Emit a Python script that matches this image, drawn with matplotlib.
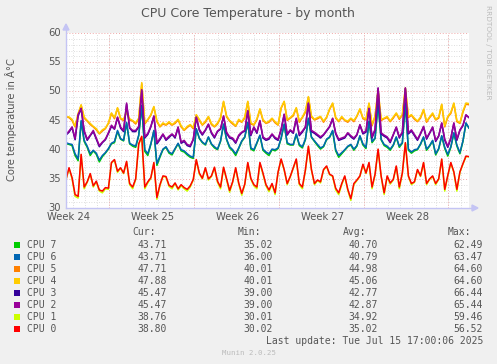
import numpy as np
import matplotlib
matplotlib.use("Agg")
import matplotlib.pyplot as plt
from matplotlib.patches import Rectangle

# ---------------- data (6-hour samples, day 0 .. 33.25) ----------------
cpu6 = [41.2,41.0,40.9,39.3,38.4,45.0,41.6,40.6,39.3,39.9,39.4,38.2,39.0,39.5,40.2,41.1,41.4,43.3,41.9,41.6,
        44.7,41.1,40.8,40.6,42.5,47.6,40.0,39.3,41.0,43.3,37.6,38.9,40.1,40.5,39.6,39.3,40.2,41.1,40.0,39.8,
        39.3,38.9,38.7,43.6,42.0,41.3,40.9,42.2,41.0,40.5,40.1,41.5,44.4,41.8,40.5,40.0,39.3,40.3,41.5,42.2,
        44.7,40.3,40.0,41.2,42.5,40.1,39.6,39.3,40.1,40.0,40.3,42.0,44.4,41.2,40.9,40.9,42.7,40.9,40.5,41.8,
        45.4,42.2,41.5,40.9,40.3,40.6,41.8,42.2,43.3,40.0,39.0,39.5,40.0,40.6,40.9,40.1,40.7,42.4,41.0,40.4,
        44.9,41.4,42.0,48.0,41.8,40.9,40.6,40.1,40.8,42.2,40.6,41.2,48.0,40.1,39.6,40.0,40.1,41.0,42.2,40.1,
        40.7,41.6,39.3,40.2,42.4,40.4,39.2,40.5,42.9,40.8,39.5,41.5,44.6,43.7]
cpu7 = [41.0,40.9,40.7,39.0,38.1,44.8,41.4,40.4,39.0,39.8,39.2,37.9,38.8,39.4,40.1,41.0,41.2,43.1,41.8,41.5,
        44.5,41.0,40.6,40.4,42.4,47.4,39.7,39.0,40.9,43.2,37.3,38.7,40.0,40.4,39.4,39.1,40.1,41.0,39.8,39.6,
        39.1,38.7,38.5,43.5,41.9,41.2,40.8,42.1,40.9,40.3,40.0,41.4,44.3,41.7,40.3,39.8,39.0,40.2,41.4,42.1,
        44.6,40.1,39.8,41.1,42.4,39.9,39.4,39.0,40.0,39.8,40.2,41.9,44.3,41.0,40.8,40.8,42.6,40.7,40.3,41.7,
        45.3,42.1,41.4,40.7,40.1,40.5,41.7,42.1,43.2,39.8,38.7,39.3,39.9,40.5,40.8,39.9,40.6,42.3,40.8,40.2,
        44.8,41.2,41.9,47.9,41.7,40.7,40.4,39.9,40.7,42.1,40.4,41.1,47.9,39.9,39.4,39.8,40.0,40.9,42.1,39.9,
        40.6,41.5,39.1,40.1,42.3,40.2,38.9,40.4,42.8,40.6,39.3,41.4,44.5,43.7]
cpu2 = [42.6,43.2,43.9,41.9,46.0,47.1,43.3,41.8,42.5,43.3,42.0,40.7,41.3,41.8,42.9,44.2,43.6,45.6,43.9,43.3,
        48.0,43.8,43.3,43.3,44.0,50.3,42.2,42.8,44.0,45.8,41.2,41.9,42.7,41.8,42.3,42.7,42.2,43.9,41.3,41.6,
        40.9,40.7,41.8,45.6,43.5,42.7,43.4,44.4,43.0,42.2,43.2,43.6,45.8,43.0,42.2,42.0,41.3,42.5,43.0,43.3,
        46.7,42.6,43.9,43.0,45.0,42.2,41.8,42.0,42.7,42.1,41.8,43.5,46.1,42.7,43.4,43.0,45.4,42.6,43.2,43.9,
        48.0,43.3,43.0,42.6,42.2,42.6,43.3,44.0,45.4,42.9,41.8,42.0,42.2,42.9,42.4,42.0,42.6,44.3,42.9,43.2,
        47.1,42.2,43.5,50.6,42.9,42.5,42.2,41.4,42.6,43.9,42.2,43.0,50.6,42.9,43.4,42.6,41.8,42.8,44.0,42.0,
        42.9,43.9,41.6,42.4,44.6,41.8,40.6,42.0,44.6,41.8,43.4,44.2,46.0,45.5]
cpu3 = [42.5,43.0,43.8,41.7,45.8,47.0,43.1,41.6,42.4,43.1,41.8,40.5,41.2,41.7,42.8,44.0,43.5,45.5,43.7,43.1,
        47.8,43.7,43.1,43.1,43.9,50.1,42.0,42.6,43.9,45.7,41.0,41.7,42.6,41.6,42.1,42.6,42.0,43.8,41.1,41.4,
        40.7,40.5,41.7,45.5,43.3,42.5,43.3,44.3,42.8,42.0,43.1,43.5,45.7,42.8,42.0,41.8,41.1,42.3,42.9,43.2,
        46.6,42.4,43.8,42.8,44.9,42.0,41.6,41.8,42.6,41.9,41.6,43.4,46.0,42.5,43.3,42.8,45.3,42.4,43.0,43.8,
        47.9,43.1,42.8,42.4,42.0,42.5,43.2,43.9,45.3,42.7,41.6,41.8,42.0,42.8,42.2,41.8,42.5,44.2,42.7,43.0,
        47.0,42.0,43.4,50.5,42.7,42.3,42.0,41.2,42.5,43.8,42.0,42.9,50.5,42.7,43.2,42.4,41.6,42.7,43.9,41.8,
        42.8,43.8,41.4,42.3,44.5,41.6,40.4,41.9,44.5,41.6,43.3,44.1,45.9,45.5]
cpu4 = [45.7,45.6,45.2,44.0,46.2,47.7,45.6,45.0,44.5,44.0,43.6,42.8,43.4,43.7,44.6,46.3,45.5,47.2,45.4,45.2,
        46.6,45.3,45.0,44.6,45.4,51.5,44.6,45.2,46.0,47.4,45.0,44.0,44.6,44.3,44.8,44.3,44.7,45.2,44.1,43.4,
        44.0,44.3,43.8,46.0,45.2,44.3,44.9,45.7,44.5,44.0,44.6,45.5,48.3,45.8,45.0,44.6,44.1,45.2,44.8,45.6,
        48.3,44.6,44.3,45.3,47.0,45.2,44.6,44.9,45.4,44.8,44.3,47.2,48.3,45.2,45.5,46.0,47.2,44.9,45.6,46.6,
        49.1,45.8,45.2,45.5,45.7,44.9,45.6,47.0,48.0,45.6,44.9,45.7,45.1,44.9,45.4,45.0,45.8,47.0,45.5,45.2,
        48.0,44.3,45.8,50.3,45.2,45.4,45.7,44.9,45.6,46.3,45.4,46.0,50.6,45.7,46.0,45.4,44.9,45.6,46.9,44.9,
        45.6,46.3,45.2,45.6,47.8,44.1,45.7,46.4,48.0,45.0,44.6,46.6,48.0,47.9]
cpu5 = [45.6,45.5,45.0,43.9,46.0,47.6,45.4,44.9,44.3,43.9,43.4,42.7,43.2,43.6,44.5,46.2,45.3,47.1,45.3,45.0,
        46.5,45.1,44.9,44.4,45.3,51.3,44.4,45.1,45.9,47.3,44.8,43.9,44.4,44.2,44.6,44.2,44.5,45.1,43.9,43.3,
        43.8,44.2,43.6,45.9,45.0,44.2,44.7,45.6,44.3,43.9,44.4,45.4,48.2,45.6,44.9,44.4,44.0,45.0,44.7,45.4,
        48.2,44.4,44.2,45.1,46.9,45.0,44.5,44.7,45.3,44.6,44.2,47.1,48.2,45.0,45.4,45.8,47.1,44.7,45.5,46.4,
        49.0,45.6,45.1,45.3,45.6,44.7,45.5,46.9,47.9,45.4,44.8,45.5,45.0,44.7,45.3,44.8,45.7,46.9,45.3,45.1,
        47.9,44.1,45.7,50.2,45.0,45.3,45.5,44.8,45.4,46.2,45.2,45.9,50.5,45.5,45.9,45.2,44.8,45.4,46.8,44.7,
        45.5,46.1,45.1,45.4,47.7,43.9,45.6,46.2,47.9,44.8,44.5,46.4,47.8,47.7]
cpu0 = [34.9,36.9,35.2,32.3,32.0,39.2,33.6,34.5,35.9,33.8,34.6,33.1,32.9,33.5,33.4,37.8,38.3,36.3,36.9,36.0,
        38.0,34.2,33.6,35.0,41.0,42.3,33.6,34.5,35.2,37.8,31.8,34.0,35.5,35.4,33.9,33.6,34.3,33.3,34.0,33.5,
        33.2,33.8,34.9,38.3,36.0,35.1,36.9,35.0,35.5,37.0,34.6,33.6,37.0,35.0,33.0,34.5,36.9,34.3,32.5,34.1,
        37.8,35.1,34.0,33.6,37.8,36.0,34.0,33.1,34.2,32.6,36.2,38.4,36.6,34.2,35.4,36.9,38.4,34.2,33.6,36.5,
        40.6,36.6,34.2,34.8,34.5,36.6,37.2,35.8,35.5,33.4,32.6,34.2,35.5,33.2,31.6,34.2,34.8,35.5,37.5,36.0,
        37.8,33.6,35.8,40.1,35.5,32.6,35.5,34.3,34.9,37.2,33.6,36.0,41.2,35.5,34.2,34.5,36.6,35.5,37.8,34.2,
        35.0,35.5,34.2,35.0,38.4,33.2,35.6,37.8,36.2,33.2,36.2,37.6,38.9,38.8]
cpu1 = [34.8,36.8,35.0,32.0,31.7,39.1,33.3,34.4,35.8,33.6,34.5,32.9,32.6,33.3,33.2,37.7,38.2,36.1,36.8,35.9,
        37.9,34.0,33.3,34.9,40.9,42.2,33.3,34.3,35.1,37.7,31.5,33.8,35.4,35.3,33.7,33.3,34.2,33.1,33.8,33.3,
        32.9,33.6,34.8,38.2,35.8,35.0,36.8,34.8,35.4,36.9,34.4,33.3,36.9,34.8,32.7,34.4,36.8,34.1,32.2,34.0,
        37.7,34.9,33.8,33.3,37.7,35.8,33.8,32.8,34.1,32.3,36.1,38.3,36.5,34.0,35.3,36.8,38.3,34.0,33.3,36.4,
        40.5,36.5,34.0,34.7,34.3,36.5,37.1,35.7,35.4,33.1,32.3,34.0,35.4,33.0,31.3,34.0,34.7,35.4,37.4,35.9,
        37.7,33.3,35.7,40.0,35.4,32.3,35.4,34.1,34.8,37.1,33.3,35.9,41.1,35.4,34.0,34.4,36.5,35.4,37.7,34.0,
        34.9,35.4,34.0,34.9,38.3,32.9,35.5,37.7,36.1,32.9,36.1,37.5,38.8,38.8]

series_names = ["CPU 7", "CPU 6", "CPU 5", "CPU 4", "CPU 3", "CPU 2", "CPU 1", "CPU 0"]
series_colors = ["#00cc00", "#0066b3", "#ff8000", "#ffcc00", "#330099", "#990099", "#ccff00", "#ff0000"]
series_values = [cpu7, cpu6, cpu5, cpu4, cpu3, cpu2, cpu1, cpu0]
cur_vals = ["43.71", "43.71", "47.71", "47.88", "45.47", "45.47", "38.76", "38.80"]
min_vals = ["35.02", "36.00", "40.01", "40.01", "39.00", "39.00", "30.01", "30.02"]
avg_vals = ["40.70", "40.79", "44.98", "45.06", "42.77", "42.87", "34.92", "35.02"]
max_vals = ["62.49", "63.47", "64.60", "64.60", "66.44", "65.44", "59.46", "56.52"]
week_labels = ["Week 24", "Week 25", "Week 26", "Week 27", "Week 28"]
week_label_days = [0.17, 7.17, 14.17, 21.17, 28.17]
week_grid_days = [3.55, 10.55, 17.55, 24.55, 31.55]
step_days = 0.25

# ---------------- figure ----------------
W, H = 497, 364
fig = plt.figure(figsize=(W / 100, H / 100), dpi=100, facecolor="#f0f0f0")
L, R, T, B = 66, 469, 33, 208
ax = fig.add_axes([L / W, 1 - B / H, (R - L) / W, (B - T) / H])
ax.set_facecolor("white")
ax.set_xlim(0, 33.25)
ax.set_ylim(30, 60)

# grid
for d in np.arange(0.55, 33.3, 1.0):
    ax.axvline(d, color="#d4d4d4", lw=0.6, ls=(0, (1, 2)), zorder=1)
for v in range(31, 60):
    if v % 5:
        ax.axhline(v, color="#d4d4d4", lw=0.6, ls=(0, (1, 2)), zorder=1)
for d in week_grid_days:
    ax.axvline(d, color="#f0a8a8", lw=0.7, ls=(0, (1, 2)), zorder=1.5)
for v in range(35, 61, 5):
    ax.axhline(v, color="#f0a8a8", lw=0.7, ls=(0, (1, 2)), zorder=1.5)

# lines
x = np.arange(len(cpu0)) * step_days
for name, col, vals in zip(series_names, series_colors, series_values):
    ax.plot(x, vals, color=col, lw=1.1, zorder=3, solid_joinstyle="round")

for s in ax.spines.values():
    s.set_visible(False)
ax.set_xticks([])
ax.set_yticks([])

axis_col = "#c4c4f4"
fig.add_artist(plt.Line2D([L / W, L / W], [1 - B / H, 1 - (T - 6) / H], color=axis_col, lw=1.0))
fig.add_artist(plt.Line2D([L / W, (R + 3) / W], [1 - B / H, 1 - B / H], color=axis_col, lw=1.0))
fig.add_artist(plt.Polygon([[(L - 3) / W, 1 - (T - 3) / H], [(L + 3) / W, 1 - (T - 3) / H], [L / W, 1 - (T - 9) / H]],
                           closed=True, color=axis_col))
fig.add_artist(plt.Polygon([[(R + 3) / W, 1 - (B - 3) / H], [(R + 3) / W, 1 - (B + 3) / H], [(R + 9) / W, 1 - B / H]],
                           closed=True, color=axis_col))

txt = "#555555"
# y tick labels
for v in range(30, 61, 5):
    ax.text(-0.012, v, str(v), transform=ax.get_yaxis_transform(), ha="right", va="center",
            fontsize=7.2, color=txt, family="DejaVu Sans")
# x tick labels
for d, lab in zip(week_label_days, week_labels):
    ax.text(d, -0.02, lab, transform=ax.get_xaxis_transform(), ha="center", va="top",
            fontsize=7.2, color=txt, family="DejaVu Sans")

def fx(px):
    return px / W

def fy(py):
    return 1 - py / H

fig.text(fx(248), fy(13), "CPU Core Temperature - by month", ha="center", va="center",
         fontsize=9, color=txt, family="DejaVu Sans")
fig.text(fx(11), fy(120), "Core temperature in Â°C", ha="center", va="center", rotation=90,
         fontsize=7.2, color=txt, family="DejaVu Sans")
fig.text(fx(488), fy(5), "RRDTOOL / TOBI OETIKER", ha="center", va="top", rotation=270,
         fontsize=5.3, color="#bbbbbb", family="DejaVu Sans")

mono = "DejaVu Sans Mono"
fs = 7
for lab, px in zip(["Cur:", "Min:", "Avg:", "Max:"], [132, 238, 343, 448]):
    fig.text(fx(px), fy(232), lab, ha="left", va="center", fontsize=fs, color=txt, family=mono)
rows_y = [245, 257, 269, 281, 293, 305, 317, 329]
for i, (name, col) in enumerate(zip(series_names, series_colors)):
    yy = rows_y[i]
    fig.add_artist(Rectangle((fx(14), fy(yy + 3)), 6 / W, 6 / H, facecolor=col, edgecolor="none"))
    fig.text(fx(27), fy(yy), name, ha="left", va="center", fontsize=fs, color=txt, family=mono)
    for vals, px in zip([cur_vals, min_vals, avg_vals, max_vals], [167, 273, 378, 483]):
        fig.text(fx(px), fy(yy), vals[i], ha="right", va="center", fontsize=fs, color=txt, family=mono)

fig.text(fx(483), fy(341), "Last update: Tue Jul 15 17:00:06 2025", ha="right", va="center",
         fontsize=fs, color=txt, family=mono)
fig.text(fx(249), fy(353), "Munin 2.0.25", ha="center", va="center", fontsize=5.3,
         color="#bbbbbb", family=mono)

fig.savefig("out.png", dpi=100, facecolor=fig.get_facecolor())
